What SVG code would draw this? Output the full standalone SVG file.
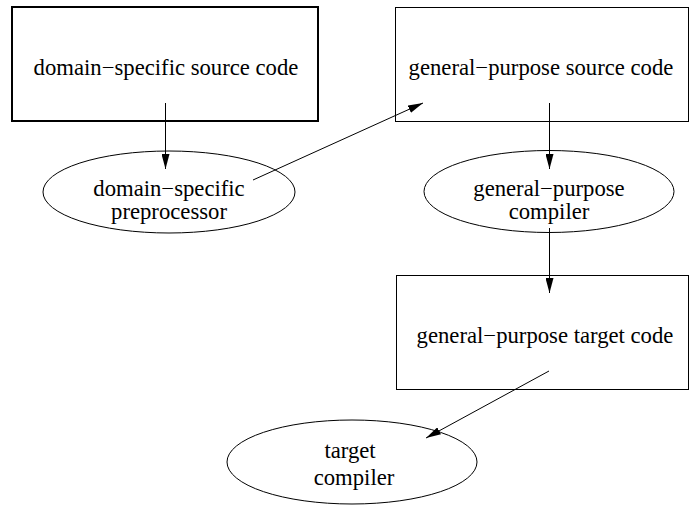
<svg xmlns="http://www.w3.org/2000/svg" width="691" height="511" viewBox="0 0 691 511">
<style>
text{font-family:"Liberation Serif","Times New Roman",serif;font-size:22.7px;fill:#000;text-anchor:middle}
.n{fill:#fff;stroke:#000;stroke-width:1}
.thick{stroke-width:2}
.e{stroke:#000;stroke-width:1;fill:none}
</style>
<defs>
<marker id="ah" viewBox="0 0 15 8" refX="15" refY="4" markerWidth="15" markerHeight="8" markerUnits="userSpaceOnUse" orient="auto">
<path d="M0,0 L15,4 L0,8 z" fill="#000"/>
</marker>
</defs>
<rect width="691" height="511" fill="#fff"/>
<g id="dsl_src">
<rect class="n thick" x="12" y="7" width="306" height="114"/>
<text x="166" y="75">domain−specific source code</text>
</g>
<g id="dsl_pre">
<ellipse class="n" cx="169" cy="192" rx="126" ry="41"/>
<text x="169" y="196">domain−specific</text>
<text x="169" y="219">preprocessor</text>
</g>
<g id="gp_src">
<rect class="n" x="395.5" y="7.5" width="293" height="114"/>
<text x="541" y="75">general−purpose source code</text>
</g>
<g id="gp_comp">
<ellipse class="n" cx="549" cy="191.5" rx="125" ry="41"/>
<text x="549" y="196">general−purpose</text>
<text x="549" y="219">compiler</text>
</g>
<g id="gp_tgt">
<rect class="n" x="396.5" y="275.5" width="292" height="114"/>
<text x="545" y="343">general−purpose target code</text>
</g>
<g id="tgt_comp">
<ellipse class="n" cx="352" cy="462" rx="125" ry="42"/>
<text x="350" y="458">target</text>
<text x="354" y="485">compiler</text>
</g>
<g id="connectors">
<path class="e" d="M165.5,103 L165.5,169" marker-end="url(#ah)"/>
<path class="e" d="M253,180 L423,103" marker-end="url(#ah)"/>
<path class="e" d="M549.5,103 L549.5,169" marker-end="url(#ah)"/>
<path class="e" d="M549.5,228 L549.5,293" marker-end="url(#ah)"/>
<path class="e" d="M549,371 L426,438" marker-end="url(#ah)"/>
</g>
</svg>
